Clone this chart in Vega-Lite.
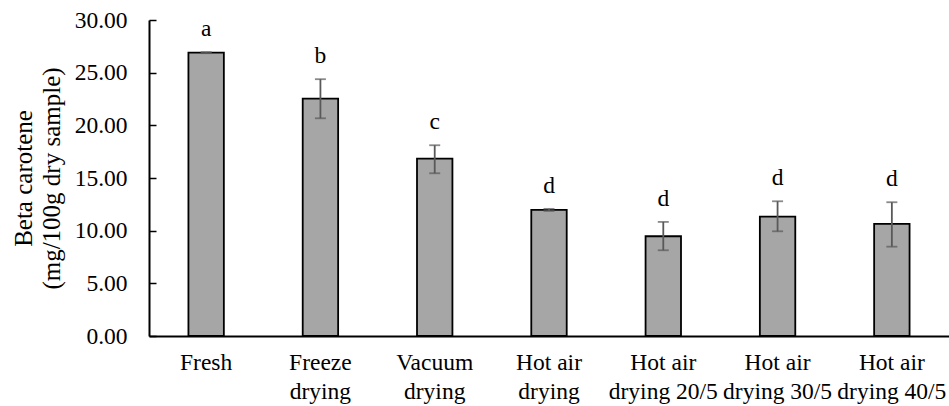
{
  "$schema": "https://vega.github.io/schema/vega-lite/v6.json",
  "width": 800,
  "height": 316,
  "autosize": "none",
  "padding": {"left": 149, "top": 20, "right": 0, "bottom": 70},
  "background": "white",
  "config": {
    "view": {"stroke": null},
    "font": "Liberation Serif",
    "axis": {"labelFont": "Liberation Serif", "titleFont": "Liberation Serif", "labelFontSize": 23.5, "titleFontSize": 25, "labelColor": "black", "titleColor": "black", "domainColor": "black", "tickColor": "black", "grid": false, "titleFontWeight": "normal"}
  },
  "data": {
    "values": [
      {"treatment": "Fresh", "mean": 26.9, "lo": 26.85, "hi": 26.95, "letter": "a"},
      {"treatment": "Freeze drying", "mean": 22.54, "lo": 20.67, "hi": 24.38, "letter": "b"},
      {"treatment": "Vacuum drying", "mean": 16.84, "lo": 15.45, "hi": 18.11, "letter": "c"},
      {"treatment": "Hot air drying", "mean": 11.97, "lo": 11.87, "hi": 12.07, "letter": "d"},
      {"treatment": "Hot air drying 20/5", "mean": 9.47, "lo": 8.14, "hi": 10.83, "letter": "d"},
      {"treatment": "Hot air drying 30/5", "mean": 11.33, "lo": 9.94, "hi": 12.79, "letter": "d"},
      {"treatment": "Hot air drying 40/5", "mean": 10.64, "lo": 8.48, "hi": 12.7, "letter": "d"}
    ]
  },
  "encoding": {
    "x": {
      "field": "treatment",
      "type": "nominal",
      "sort": null,
      "scale": {"paddingInner": 0.69, "paddingOuter": 0.345},
      "axis": {
        "title": null,
        "labelAngle": 0,
        "ticks": false,
        "labelPadding": 14,
        "labelFontSize": 23.5,
        "labelLineHeight": 29,
        "domainWidth": 2,
        "labelExpr": "split(replace(datum.label, ' drying', '|drying'), '|')"
      }
    }
  },
  "layer": [
    {
      "mark": {"type": "bar", "fill": "#A6A6A6", "stroke": "black", "strokeWidth": 1.8},
      "encoding": {
        "y": {
          "field": "mean",
          "type": "quantitative",
          "scale": {"domain": [0, 30], "nice": false},
          "axis": {
            "values": [0, 5, 10, 15, 20, 25, 30],
            "format": ".2f",
            "title": ["Beta carotene", "(mg/100g dry sample)"],
            "titleFontSize": 25,
            "titleLineHeight": 28,
            "titlePadding": 10,
            "labelFontSize": 23.5,
            "tickSize": -7,
            "tickWidth": 1.5,
            "labelPadding": 29,
            "domainWidth": 2
          }
        }
      }
    },
    {
      "mark": {"type": "rule", "color": "#595959", "strokeWidth": 1.8},
      "encoding": {
        "y": {"field": "lo", "type": "quantitative"},
        "y2": {"field": "hi"}
      }
    },
    {
      "mark": {"type": "tick", "color": "#595959", "size": 11, "thickness": 1.8},
      "encoding": {
        "y": {"field": "lo", "type": "quantitative"}
      }
    },
    {
      "mark": {"type": "tick", "color": "#595959", "size": 11, "thickness": 1.8},
      "encoding": {
        "y": {"field": "hi", "type": "quantitative"}
      }
    },
    {
      "mark": {"type": "text", "fontSize": 23.5, "dy": -16, "baseline": "alphabetic", "color": "black"},
      "encoding": {
        "y": {"field": "hi", "type": "quantitative"},
        "text": {"field": "letter"}
      }
    }
  ]
}
